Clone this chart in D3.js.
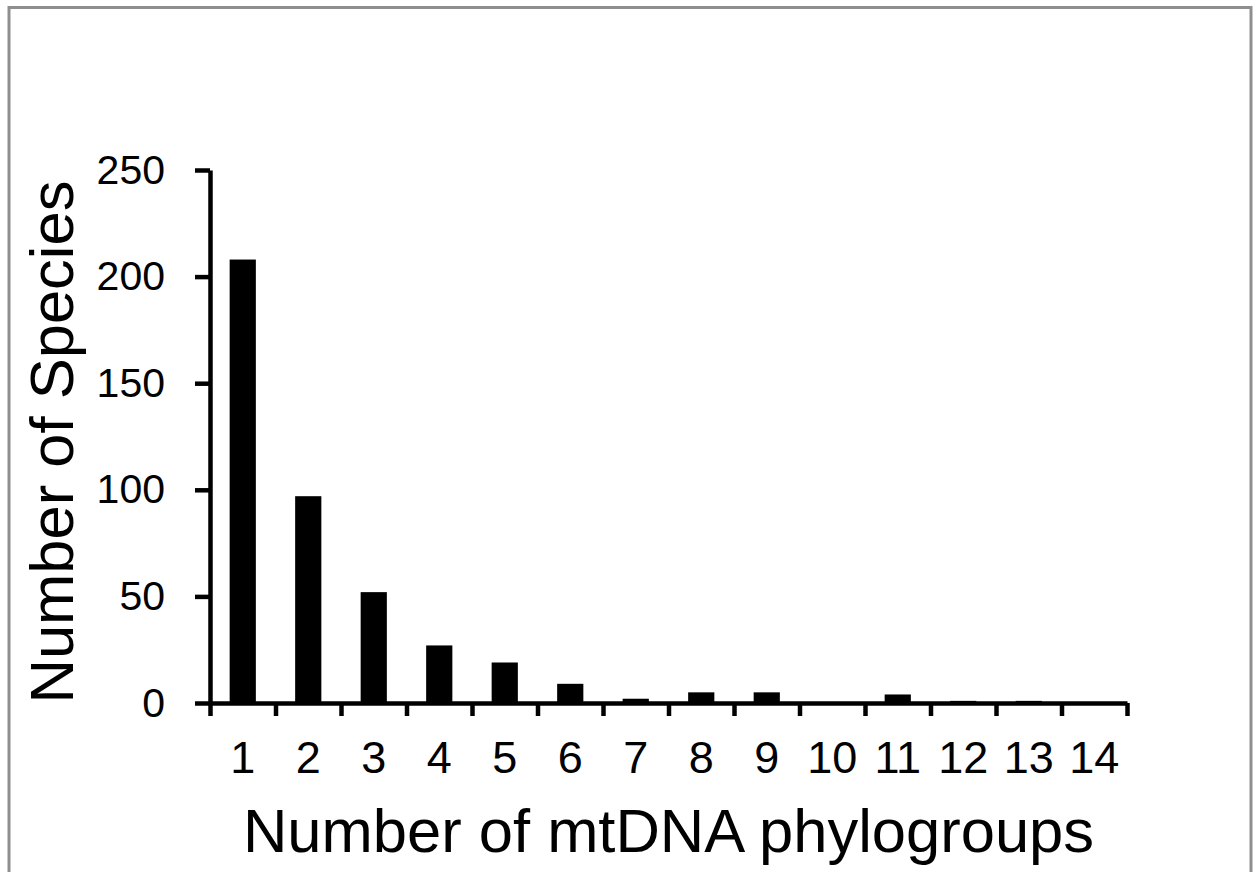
<!DOCTYPE html>
<html lang="en">

<head>
  <meta charset="UTF-8">
  <title>mtDNA phylogroups</title>
  <script src="https://cdn.jsdelivr.net/npm/d3@7"></script>
  <style>
    body {
      margin: 0;
      background: white;
    }

    svg {
      display: block;
      font-family: "Liberation Sans", Arial, sans-serif;
    }
  </style>
</head>

<body>
  <div id="chart"></div>
  <script>
    const groups = ['1', '2', '3', '4', '5', '6', '7', '8', '9', '10', '11', '12', '13', '14']
    const species = [208, 97, 52, 27, 19, 9, 2, 5, 5, 0, 4, 1, 1, 0]
    const yTicks = [0, 50, 100, 150, 200, 250]

    const width = 1254
    const height = 872
    const plotLeft = 210
    const plotRight = 1127
    const plotTop = 170
    const plotBottom = 703

    const svg = d3.select('#chart')
      .append('svg')
      .attr('width', width)
      .attr('height', height)

    // grey frame, its bottom edge is cut off in the picture
    svg.append('rect')
      .attr('x', 9)
      .attr('y', 7.5)
      .attr('width', 1242)
      .attr('height', 900)
      .attr('fill', 'none')
      .attr('stroke', '#8f8f8f')
      .attr('stroke-width', 3)

    const xBand = d3.scaleBand()
      .domain(groups)
      .range([plotLeft, plotRight])
      .paddingInner(0.6)
      .paddingOuter(0.3)

    // boundaries between categories, for the tick marks
    const xEdge = d3.scaleLinear()
      .domain([0, groups.length])
      .range([plotLeft, plotRight])

    const y = d3.scaleLinear()
      .domain([0, 250])
      .range([plotBottom, plotTop])

    svg.selectAll('rect.bar')
      .data(species)
      .enter()
      .append('rect')
      .attr('class', 'bar')
      .attr('x', (d, i) => xBand(groups[i]))
      .attr('y', d => y(d))
      .attr('width', xBand.bandwidth())
      .attr('height', d => y(0) - y(d))
      .attr('fill', 'black')

    svg.append('g')
      .attr('transform', `translate(0, ${plotBottom})`)
      .call(d3.axisBottom(xEdge)
        .tickValues(d3.range(0, groups.length + 1))
        .tickSize(13)
        .tickSizeOuter(0)
        .tickFormat(''))

    const yAxis = svg.append('g')
      .attr('transform', `translate(${plotLeft}, 0)`)
      .call(d3.axisLeft(y)
        .tickValues(yTicks)
        .tickSize(15)
        .tickSizeOuter(0)
        .tickPadding(30))

    svg.selectAll('.domain, .tick line')
      .attr('stroke', 'black')
      .attr('stroke-width', 4.5)

    yAxis.selectAll('text')
      .attr('font-size', 41)
      .attr('font-family', '"Liberation Sans", Arial, sans-serif')
      .attr('fill', 'black')

    svg.append('g')
      .selectAll('text')
      .data(groups)
      .enter()
      .append('text')
      .attr('x', d => xBand(d) + xBand.bandwidth() / 2)
      .attr('y', 773)
      .attr('text-anchor', 'middle')
      .attr('font-size', 45)
      .text(d => d)

    svg.append('text')
      .attr('x', (plotLeft + plotRight) / 2)
      .attr('y', 852)
      .attr('text-anchor', 'middle')
      .attr('font-size', 61.5)
      .text('Number of mtDNA phylogroups')

    svg.append('text')
      .attr('transform', 'translate(73, 442) rotate(-90)')
      .attr('text-anchor', 'middle')
      .attr('font-size', 61.5)
      .text('Number of Species')
  </script>
</body>

</html>
